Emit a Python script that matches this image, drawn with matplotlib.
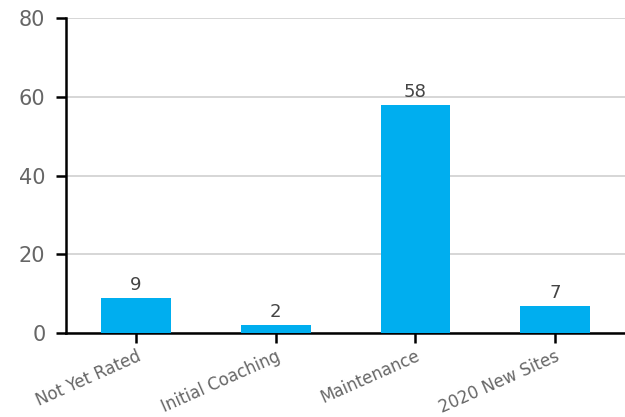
import matplotlib
matplotlib.use("Agg")
import matplotlib.pyplot as plt

categories = ["Not Yet Rated", "Initial Coaching", "Maintenance", "2020 New Sites"]
values = [9, 2, 58, 7]
yticks = [0, 20, 40, 60, 80]

plt.rcParams["font.family"] = ["DejaVu Sans"]

fig = plt.figure(figsize=(6.25, 4.17), dpi=100)
ax = fig.add_axes([0.106, 0.201, 0.894, 0.756])

x = range(len(categories))
bars = ax.bar(x, values, width=0.5, color="#00aeef", zorder=3)
for b, v in zip(bars, values):
    ax.text(b.get_x() + b.get_width() / 2, v + 1.0, str(v), ha="center", va="bottom",
            fontsize=13, color="#444444")

ax.set_xlim(-0.5, 3.5)
ax.set_ylim(0, 80)
ax.set_yticks(yticks)
ax.set_yticklabels([str(t) for t in yticks], fontsize=15, color="#666666")
ax.set_xticks(list(x))
ax.set_xticklabels(categories, rotation=24, ha="right", rotation_mode="anchor",
                   fontsize=12, color="#666666")
ax.grid(axis="y", color="#d0d0d0", linewidth=1.2, zorder=0)
ax.spines["top"].set_visible(False)
ax.spines["right"].set_visible(False)
ax.spines["left"].set_linewidth(1.8)
ax.spines["bottom"].set_linewidth(1.8)
ax.tick_params(axis="y", length=7, width=1.8, pad=8)
ax.tick_params(axis="x", length=7, width=1.8, pad=3)

fig.savefig("out.png", dpi=100)
